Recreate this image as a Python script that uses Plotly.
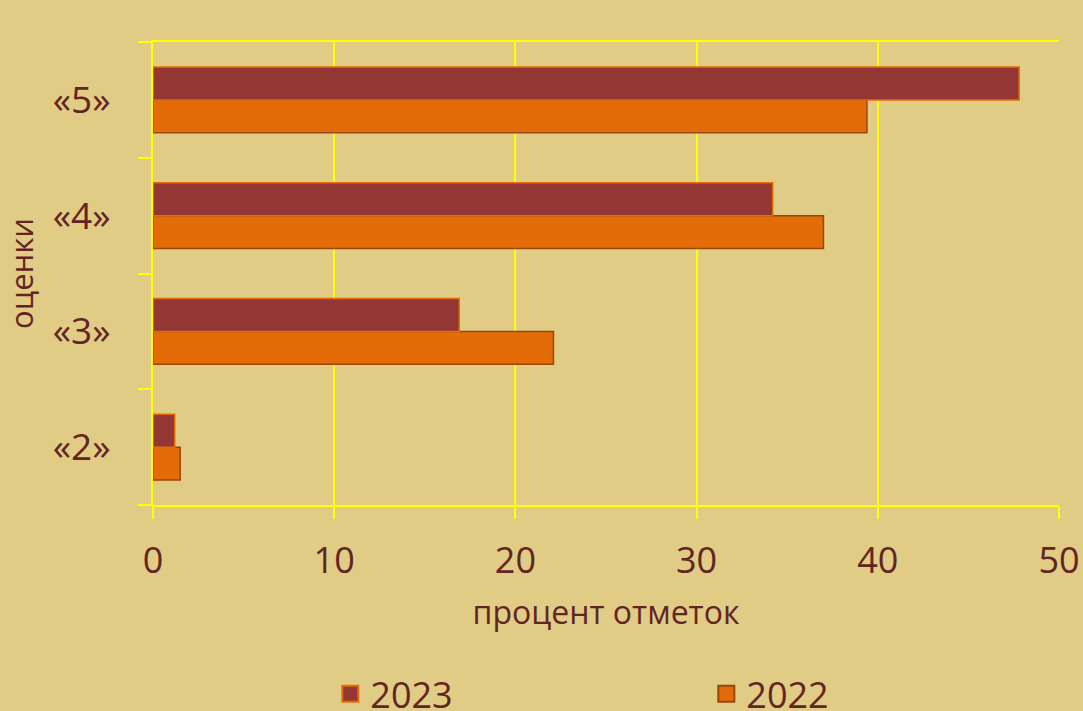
import plotly.graph_objects as go

categories = ["«2»", "«3»", "«4»", "«5»"]
values_2023 = [1.2, 16.9, 34.2, 47.8]
values_2022 = [1.5, 22.1, 37.0, 39.4]
x_ticks = [0, 10, 20, 30, 40, 50]

bg = "#E0CC84"
txt = "#632523"
grid = "#FFFF00"
c2023, l2023 = "#943634", "#E36C09"
c2022, l2022 = "#E36C09", "#974806"

fig = go.Figure()
fig.add_trace(go.Bar(
    y=categories, x=values_2022, name="2022", orientation="h", showlegend=False,
    marker=dict(color=c2022, line=dict(color=l2022, width=1.5)),
))
fig.add_trace(go.Bar(
    y=categories, x=values_2023, name="2023", orientation="h", showlegend=False,
    marker=dict(color=c2023, line=dict(color=l2023, width=1.5)),
))
# legend entries (square swatches)
fig.add_trace(go.Scatter(
    x=[None], y=[None], mode="markers", name="2022",
    marker=dict(symbol="square", size=22, color=c2022, line=dict(color=l2022, width=2)),
))
fig.add_trace(go.Scatter(
    x=[None], y=[None], mode="markers", name="2023",
    marker=dict(symbol="square", size=22, color=c2023, line=dict(color=l2023, width=2)),
))

font_family = "Open Sans"
fig.update_layout(
    width=1083, height=711,
    paper_bgcolor=bg, plot_bgcolor=bg,
    margin=dict(l=153, r=24, t=42, b=206),
    barmode="group", bargap=0.43, bargroupgap=0,
    font=dict(family=font_family, color=txt, size=32),
    showlegend=True,
    legend=dict(
        orientation="h", traceorder="reversed", itemsizing="trace",
        xref="container", yref="container",
        x=0.305, xanchor="left", y=0.024, yanchor="middle",
        entrywidth=331, entrywidthmode="pixels",
        font=dict(size=36, color=txt), bgcolor="rgba(0,0,0,0)",
    ),
    xaxis=dict(
        range=[0, 50], tickvals=x_ticks, ticktext=[str(v) for v in x_ticks],
        automargin=False,
        showgrid=True, gridcolor=grid, gridwidth=2,
        showline=True, linecolor=grid, linewidth=2, mirror=True,
        ticks="outside", ticklen=12, tickcolor=grid, tickwidth=2,
        ticklabelstandoff=11, zeroline=False,
        tickfont=dict(size=36, color=txt),
        title=dict(text="процент отметок", font=dict(size=32, color=txt), standoff=18),
    ),
    yaxis=dict(
        type="category", categoryorder="array", categoryarray=categories,
        automargin=False,
        showgrid=False, showline=True, linecolor=grid, linewidth=2,
        ticks="outside", tickson="boundaries", ticklen=13, tickcolor=grid, tickwidth=2,
        ticklabelstandoff=33,
        tickfont=dict(size=37, color=txt),
        title=dict(text="оценки", font=dict(size=31, color=txt), standoff=16),
    ),
)

fig.write_html("out.html", config={"displayModeBar": False})

with open("out.html", encoding="utf-8") as f:
    html = f.read()
html = html.replace("<body>", '<body style="margin:0;padding:0;">', 1)
with open("out.html", "w", encoding="utf-8") as f:
    f.write(html)
